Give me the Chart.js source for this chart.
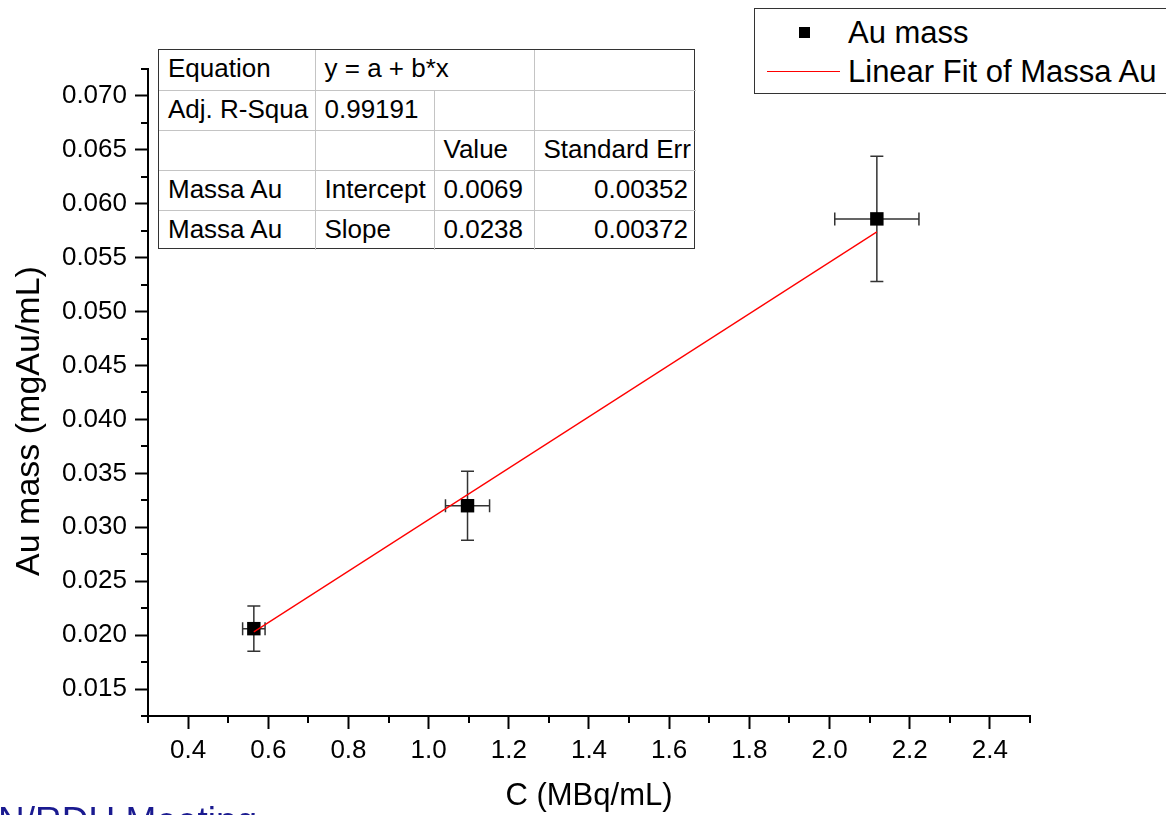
<!DOCTYPE html>
<html>
<head>
<meta charset="utf-8">
<title>Au mass vs C</title>
<script src="https://cdn.jsdelivr.net/npm/chart.js@4.4.1/dist/chart.umd.min.js"></script>
<style>
  body { margin: 0; background: #fff; font-family: "Liberation Sans", Arial, sans-serif; }
  #wrap { position: relative; width: 1166px; height: 815px; overflow: hidden; }
  #myChart { position: absolute; left: 0; top: 0; }
  .fit-table { position: absolute; left: 158px; top: 49px; width: 537px; height: 200px;
    box-sizing: border-box; border: 1px solid #333; background: #fff; }
  .fit-table table { border-collapse: collapse; table-layout: fixed; width: 100%; height: 100%; }
  .fit-table td { border: 1px solid #c4c4c4; font-size: 26px; color: #000; padding: 0 0 2px 9px;
    white-space: nowrap; overflow: hidden; height: 40px; box-sizing: border-box; }
  .fit-table tr:first-child td { border-top: none; }
  .fit-table tr:last-child td { border-bottom: none; }
  .fit-table td:first-child { border-left: none; }
  .fit-table td:last-child { border-right: none; }
  .fit-table td.num { text-align: right; padding: 0 8px 2px 0; }
  .legend-box { position: absolute; left: 754px; top: 8px; width: 430px; height: 84px;
    border: 1px solid #333; background: #fff; }
  .lg-text { position: absolute; left: 93px; font-size: 31px; line-height: 40px; color: #000; white-space: nowrap; }
  .lg-marker { position: absolute; left: 44px; top: 18px; width: 11px; height: 11px; background: #000; }
  .lg-line { position: absolute; left: 12px; top: 62px; width: 73px; height: 0; border-top: 1px solid #ff0000; }
  .footer-text { position: absolute; left: -2px; top: 802px; font-size: 37px; line-height: 1;
    color: #1a1a90; white-space: nowrap; }
</style>
</head>
<body>
<div id="wrap">
  <canvas id="myChart" width="1166" height="815"></canvas>

  <div class="fit-table">
    <table>
      <colgroup><col style="width:156px"><col style="width:119px"><col style="width:100px"><col style="width:162px"></colgroup>
      <tr><td>Equation</td><td colspan="2">y = a + b*x</td><td></td></tr>
      <tr><td>Adj. R-Squa</td><td>0.99191</td><td></td><td></td></tr>
      <tr><td></td><td></td><td>Value</td><td>Standard Err</td></tr>
      <tr><td>Massa Au</td><td>Intercept</td><td>0.0069</td><td class="num">0.00352</td></tr>
      <tr><td>Massa Au</td><td>Slope</td><td>0.0238</td><td class="num">0.00372</td></tr>
    </table>
  </div>

  <div class="legend-box">
    <div class="lg-marker"></div>
    <div class="lg-text" style="top:4px">Au mass</div>
    <div class="lg-line"></div>
    <div class="lg-text" style="top:43px">Linear Fit of Massa Au</div>
  </div>

  <div class="footer-text">N/RDU Meeting</div>
</div>

<script>
// measured points with error bars
const xValues = [0.564, 1.097, 2.118];
const yValues = [0.0206, 0.0320, 0.0586];
const xErrors = [0.028, 0.055, 0.105];
const yErrors = [0.0021, 0.0032, 0.0058];

// ends of the red fit line
const fitX = [0.564, 2.118];
const fitY = [0.0203, 0.0574];

const xTicks = [0.4, 0.6, 0.8, 1.0, 1.2, 1.4, 1.6, 1.8, 2.0, 2.2, 2.4];
const xTickLabels = ['0.4', '0.6', '0.8', '1.0', '1.2', '1.4', '1.6', '1.8', '2.0', '2.2', '2.4'];
const xMinorTicks = [0.3, 0.5, 0.7, 0.9, 1.1, 1.3, 1.5, 1.7, 1.9, 2.1, 2.3, 2.5];

const yTicks = [0.015, 0.020, 0.025, 0.030, 0.035, 0.040, 0.045, 0.050, 0.055, 0.060, 0.065, 0.070];
const yTickLabels = ['0.015', '0.020', '0.025', '0.030', '0.035', '0.040', '0.045', '0.050', '0.055', '0.060', '0.065', '0.070'];
const yMinorTicks = [0.0125, 0.0175, 0.0225, 0.0275, 0.0325, 0.0375, 0.0425, 0.0475, 0.0525, 0.0575, 0.0625, 0.0675, 0.0725];

const yTitle = 'Au mass (mgAu/mL)';

const FONT = '"Liberation Sans", Arial, sans-serif';

const errorBars = {
  id: 'errorBars',
  beforeDatasetsDraw(chart) {
    const { ctx, scales: { x, y } } = chart;
    const cap = 6.5;
    ctx.save();
    ctx.strokeStyle = '#333';
    ctx.lineWidth = 1.5;
    xValues.forEach((xv, i) => {
      const px = x.getPixelForValue(xv);
      const py = y.getPixelForValue(yValues[i]);
      const top = y.getPixelForValue(yValues[i] + yErrors[i]);
      const bot = y.getPixelForValue(yValues[i] - yErrors[i]);
      const left = x.getPixelForValue(xv - xErrors[i]);
      const right = x.getPixelForValue(xv + xErrors[i]);
      ctx.beginPath();
      ctx.moveTo(px, top); ctx.lineTo(px, bot);
      ctx.moveTo(px - cap, top); ctx.lineTo(px + cap, top);
      ctx.moveTo(px - cap, bot); ctx.lineTo(px + cap, bot);
      ctx.moveTo(left, py); ctx.lineTo(right, py);
      ctx.moveTo(left, py - cap); ctx.lineTo(left, py + cap);
      ctx.moveTo(right, py - cap); ctx.lineTo(right, py + cap);
      ctx.stroke();
    });
    ctx.restore();
  }
};

const minorTicks = {
  id: 'minorTicks',
  afterDraw(chart) {
    const { ctx, chartArea, scales: { x, y } } = chart;
    ctx.save();
    ctx.strokeStyle = '#000';
    ctx.lineWidth = 2;
    ctx.beginPath();
    xMinorTicks.forEach((v) => {
      const px = Math.round(x.getPixelForValue(v));
      ctx.moveTo(px, chartArea.bottom);
      ctx.lineTo(px, chartArea.bottom + 7);
    });
    yMinorTicks.forEach((v) => {
      const py = Math.round(y.getPixelForValue(v));
      ctx.moveTo(chartArea.left, py);
      ctx.lineTo(chartArea.left - 7, py);
    });
    ctx.stroke();

    // y axis title, a bit lower than the axis centre like in the original
    ctx.translate(30, 421);
    ctx.rotate(-Math.PI / 2);
    ctx.fillStyle = '#000';
    ctx.font = '34px ' + FONT;
    ctx.textAlign = 'center';
    ctx.textBaseline = 'middle';
    ctx.fillText(yTitle, 0, 0);
    ctx.restore();
  }
};

const ctx = document.querySelector('#myChart');

const myChart = new Chart(ctx, {
  type: 'scatter',
  data: {
    datasets: [{
      label: 'Linear Fit of Massa Au',
      data: fitX.map((v, i) => ({ x: v, y: fitY[i] })),
      showLine: true,
      borderColor: '#ff0000',
      borderWidth: 1.3,
      pointRadius: 0,
      order: 0
    }, {
      label: 'Au mass',
      data: xValues.map((v, i) => ({ x: v, y: yValues[i] })),
      pointStyle: 'rect',
      pointRadius: 9.5,
      backgroundColor: '#000',
      borderColor: '#000',
      borderWidth: 0,
      order: 1
    }]
  },
  options: {
    responsive: false,
    animation: false,
    layout: { padding: { left: 0, top: 69, right: 136, bottom: 0 } },
    plugins: {
      legend: { display: false },
      tooltip: { enabled: false }
    },
    scales: {
      x: {
        type: 'linear',
        min: 0.3,
        max: 2.5,
        afterBuildTicks: (scale) => { scale.ticks = xTicks.map((v) => ({ value: v })); },
        afterFit: (scale) => { scale.height = 99; },
        border: { display: true, color: '#000', width: 2 },
        grid: { drawOnChartArea: false, drawTicks: true, tickLength: 13, tickWidth: 2, tickColor: '#000' },
        ticks: {
          padding: 6,
          color: '#000',
          font: { family: FONT, size: 26 },
          maxRotation: 0,
          callback: (value) => xTickLabels[xTicks.indexOf(value)]
        },
        title: {
          display: true,
          text: 'C (MBq/mL)',
          color: '#000',
          font: { family: FONT, size: 31 },
          padding: { top: 0, bottom: 0 }
        }
      },
      y: {
        type: 'linear',
        min: 0.0125,
        max: 0.0725,
        afterBuildTicks: (scale) => { scale.ticks = yTicks.map((v) => ({ value: v })); },
        afterFit: (scale) => { scale.width = 148; },
        border: { display: true, color: '#000', width: 2 },
        grid: { drawOnChartArea: false, drawTicks: true, tickLength: 13, tickWidth: 2, tickColor: '#000' },
        ticks: {
          padding: 8,
          color: '#000',
          font: { family: FONT, size: 26 },
          callback: (value) => yTickLabels[yTicks.indexOf(value)]
        },
        title: { display: false }
      }
    }
  },
  plugins: [errorBars, minorTicks]
});
</script>
</body>
</html>
